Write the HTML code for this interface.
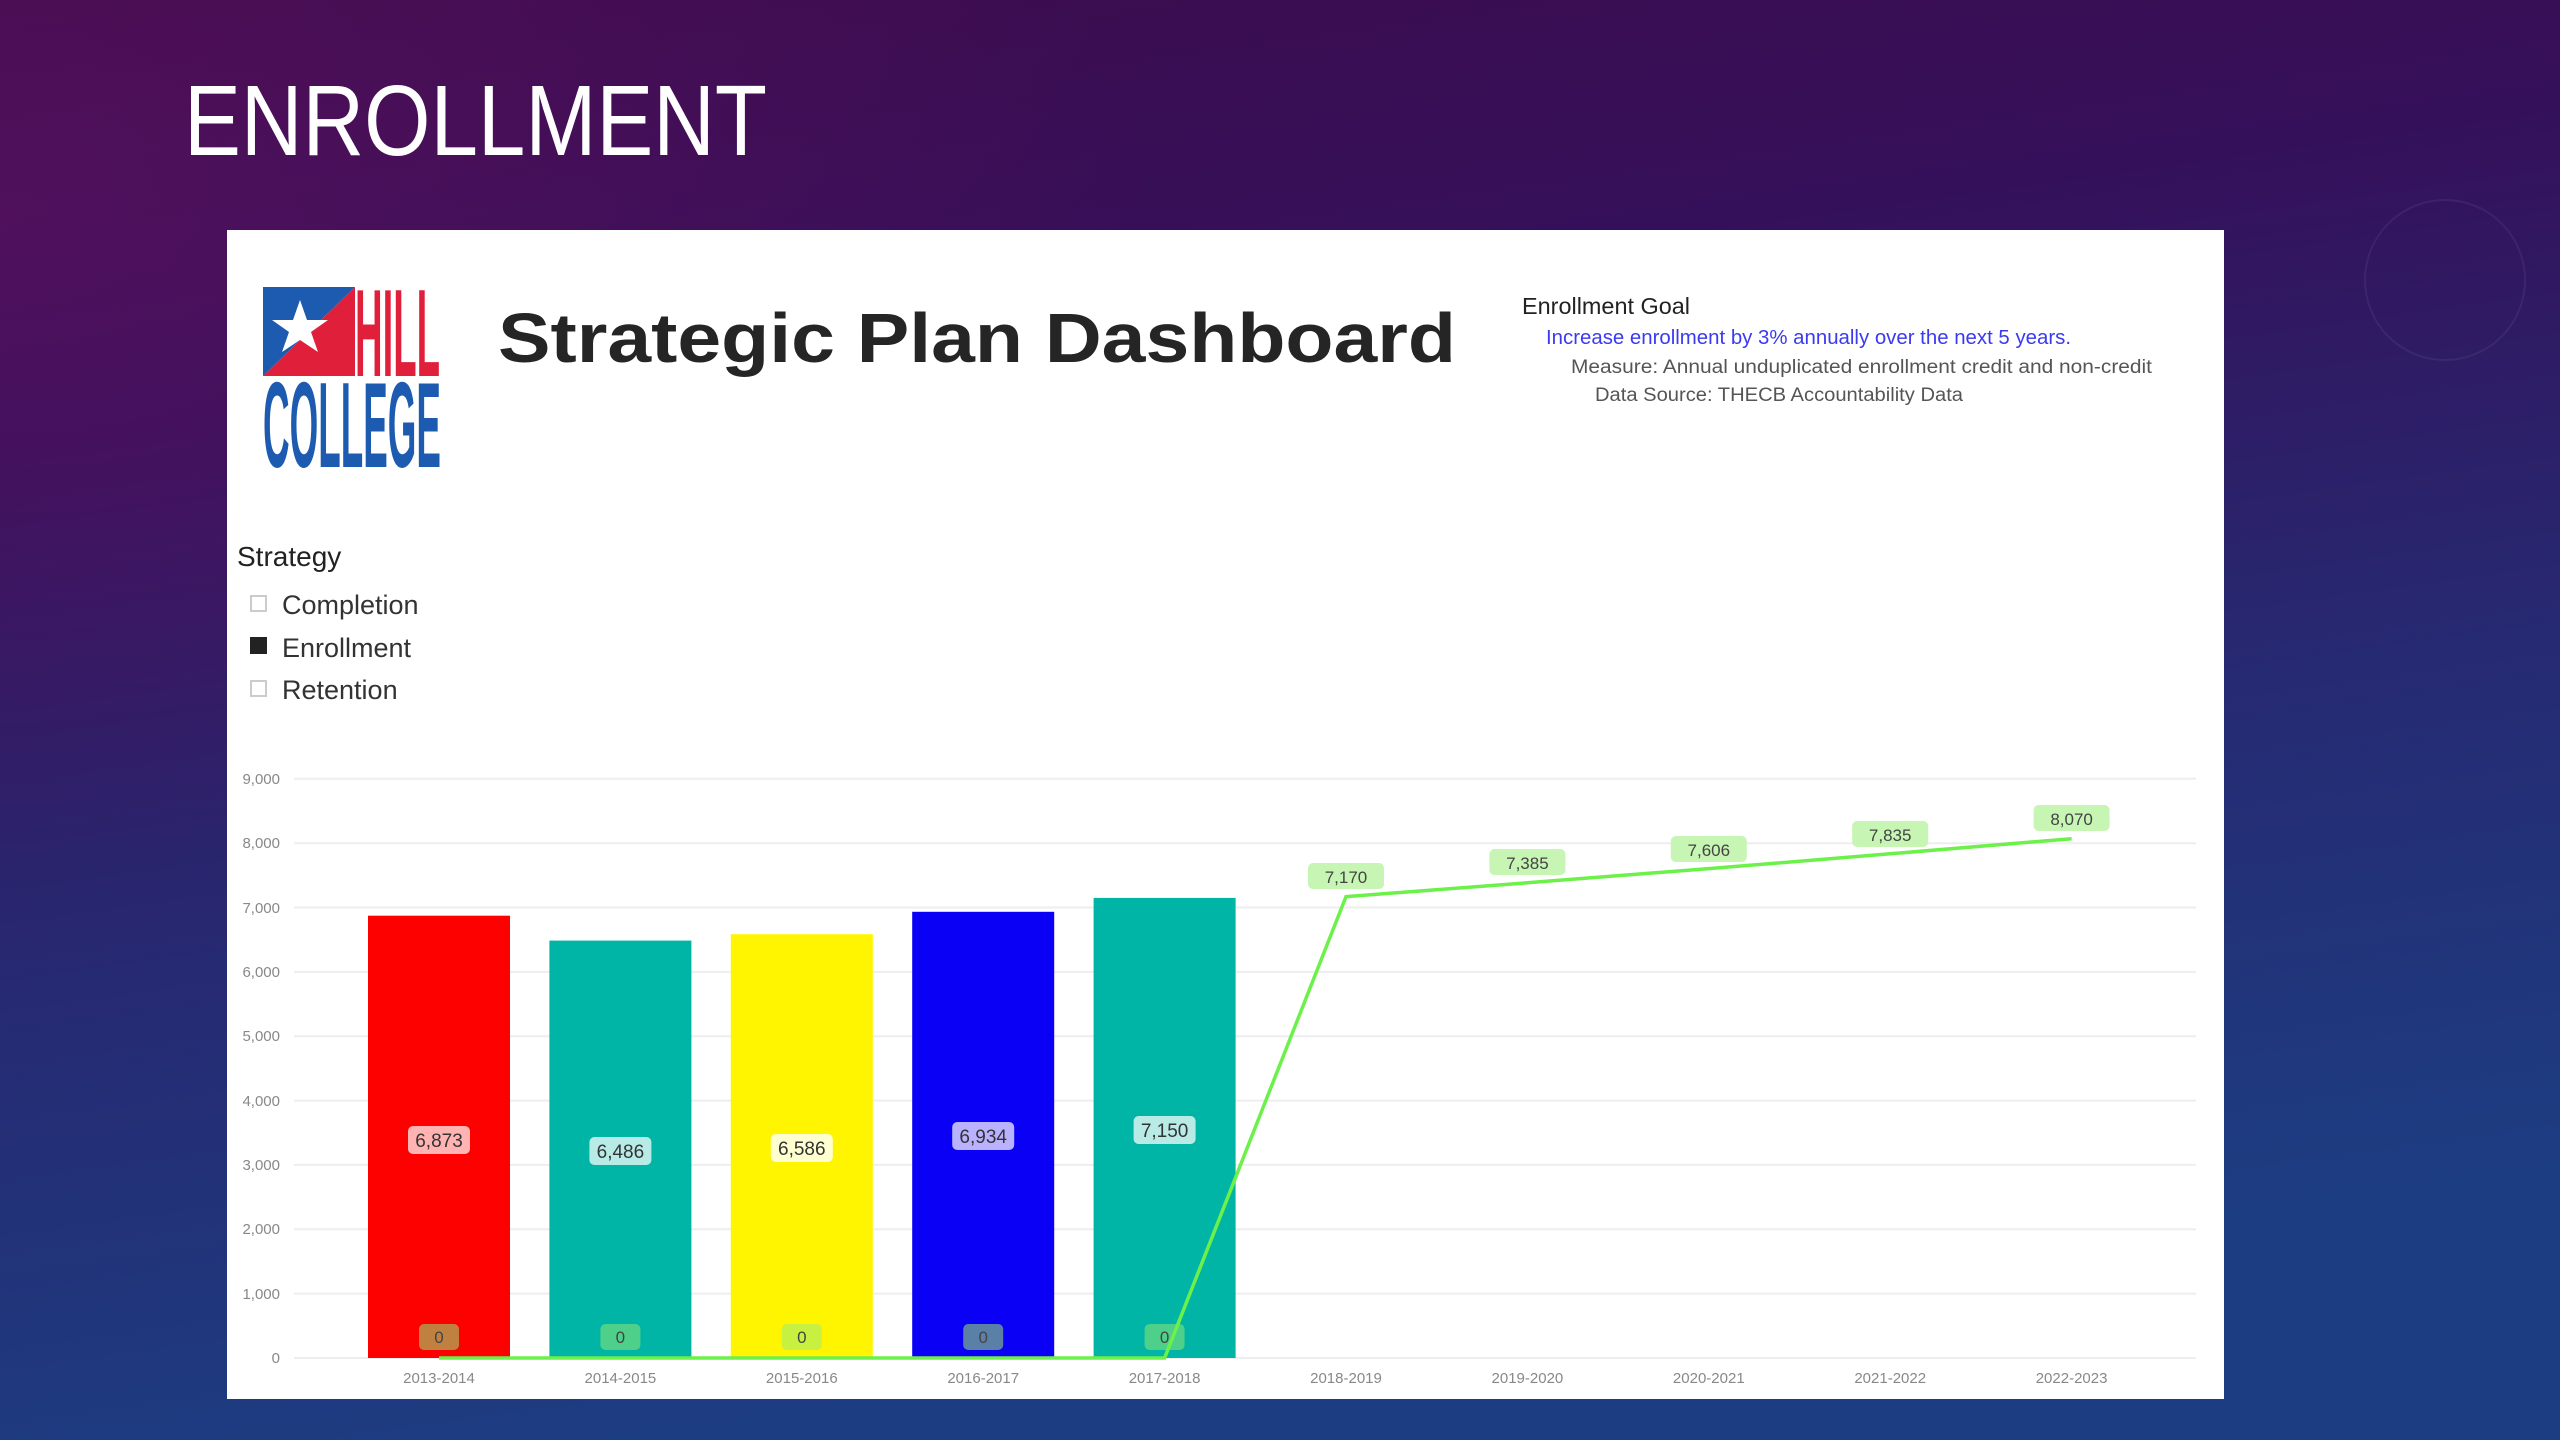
<!DOCTYPE html>
<html><head><meta charset="utf-8"><style>
html,body{margin:0;padding:0;width:2560px;height:1440px;overflow:hidden;background:#2a1560}
</style></head><body>
<svg width="2560" height="1440" viewBox="0 0 2560 1440" xmlns="http://www.w3.org/2000/svg" font-family="Liberation Sans, sans-serif">
<defs>
<linearGradient id="bg" x1="0" y1="0" x2="0.25" y2="1">
<stop offset="0" stop-color="#3e0b4c"/>
<stop offset="0.3" stop-color="#35105a"/>
<stop offset="0.65" stop-color="#262a72"/>
<stop offset="1" stop-color="#1d3d82"/>
</linearGradient>
<radialGradient id="glow" cx="0.0" cy="0.15" r="0.45">
<stop offset="0" stop-color="#6a1468" stop-opacity="0.45"/>
<stop offset="1" stop-color="#6a1468" stop-opacity="0"/>
</radialGradient>
</defs>
<rect width="2560" height="1440" fill="url(#bg)"/>
<rect width="2560" height="1440" fill="url(#glow)"/>
<circle cx="2445" cy="280" r="80" fill="none" stroke="#ffffff" stroke-opacity="0.06" stroke-width="2"/>
<text x="184" y="155" font-size="100" fill="#ffffff" textLength="583" lengthAdjust="spacingAndGlyphs">ENROLLMENT</text>

<rect x="227" y="230" width="1997" height="1169" fill="#ffffff"/>

<!-- logo -->
<polygon points="263,287 355,287 263,376" fill="#1d5bb0"/>
<polygon points="355,287 355,376 263,376" fill="#e0203a"/>
<polygon points="300,300 307,320 328,320 311,332 318,352 300,340 282,352 289,332 272,320 293,320" fill="#ffffff"/>
<text x="355" y="376" font-size="124" font-weight="bold" fill="#e0203a" textLength="85" lengthAdjust="spacingAndGlyphs">HILL</text>
<text x="263" y="467" font-size="122" font-weight="bold" fill="#1d5bb0" textLength="178" lengthAdjust="spacingAndGlyphs">COLLEGE</text>

<text x="498" y="362" font-size="70" font-weight="bold" fill="#252525" textLength="958" lengthAdjust="spacingAndGlyphs">Strategic Plan Dashboard</text>

<text x="1522" y="314" font-size="23" fill="#222" textLength="168" lengthAdjust="spacingAndGlyphs">Enrollment Goal</text>
<text x="1546" y="344" font-size="20" fill="#3a3af0" textLength="525" lengthAdjust="spacingAndGlyphs">Increase enrollment by 3% annually over the next 5 years.</text>
<text x="1571" y="373" font-size="19" fill="#555" textLength="581" lengthAdjust="spacingAndGlyphs">Measure: Annual unduplicated enrollment credit and non-credit</text>
<text x="1595" y="401" font-size="19" fill="#555" textLength="368" lengthAdjust="spacingAndGlyphs">Data Source: THECB Accountability Data</text>

<text x="237" y="566" font-size="28" fill="#222">Strategy</text>
<rect x="251" y="596" width="15" height="15" fill="#fff" stroke="#ccc" stroke-width="2"/>
<text x="282" y="614" font-size="27" fill="#333">Completion</text>
<rect x="250" y="637" width="17" height="17" fill="#222"/>
<text x="282" y="657" font-size="27" fill="#333">Enrollment</text>
<rect x="251" y="681" width="15" height="15" fill="#fff" stroke="#ccc" stroke-width="2"/>
<text x="282" y="699" font-size="27" fill="#333">Retention</text>

<!-- grid -->
<g stroke="#eeeeee" stroke-width="2">
<line x1="294" y1="1293.6" x2="2196" y2="1293.6"/>
<line x1="294" y1="1229.3" x2="2196" y2="1229.3"/>
<line x1="294" y1="1164.9" x2="2196" y2="1164.9"/>
<line x1="294" y1="1100.6" x2="2196" y2="1100.6"/>
<line x1="294" y1="1036.3" x2="2196" y2="1036.3"/>
<line x1="294" y1="971.9" x2="2196" y2="971.9"/>
<line x1="294" y1="907.5" x2="2196" y2="907.5"/>
<line x1="294" y1="843.2" x2="2196" y2="843.2"/>
<line x1="294" y1="778.8" x2="2196" y2="778.8"/>
<line x1="294" y1="1358" x2="2196" y2="1358"/>
</g>
<g font-size="15" fill="#888" text-anchor="end">
<text x="280" y="1363">0</text>
<text x="280" y="1299">1,000</text>
<text x="280" y="1234">2,000</text>
<text x="280" y="1170">3,000</text>
<text x="280" y="1106">4,000</text>
<text x="280" y="1041">5,000</text>
<text x="280" y="977">6,000</text>
<text x="280" y="913">7,000</text>
<text x="280" y="848">8,000</text>
<text x="280" y="784">9,000</text>
</g>

<!-- bars -->
<rect x="368" y="915.7" width="142" height="442.3" fill="#fd0000"/>
<rect x="549.4" y="940.6" width="142" height="417.4" fill="#00b5a5"/>
<rect x="730.8" y="934.2" width="142" height="423.8" fill="#fff500"/>
<rect x="912.2" y="911.8" width="142" height="446.2" fill="#0a00f5"/>
<rect x="1093.6" y="897.9" width="142" height="460.1" fill="#00b5a5"/>

<!-- bar labels -->
<g font-size="19" fill="#333" text-anchor="middle">
<rect x="408" y="1126" width="62" height="28" rx="5" fill="#ffb3b3"/><text x="439" y="1147">6,873</text>
<rect x="589.4" y="1137" width="62" height="28" rx="5" fill="#b8ebe6"/><text x="620.4" y="1158">6,486</text>
<rect x="770.8" y="1134" width="62" height="28" rx="5" fill="#ffffd0"/><text x="801.8" y="1155">6,586</text>
<rect x="952.2" y="1122" width="62" height="28" rx="5" fill="#b9b3ff"/><text x="983.2" y="1143">6,934</text>
<rect x="1133.6" y="1116" width="62" height="28" rx="5" fill="#b8ebe6"/><text x="1164.6" y="1137">7,150</text>
</g>
<g font-size="17" fill="#444" text-anchor="middle">
<rect x="419" y="1324" width="40" height="26" rx="5" fill="#c08040"/><text x="439" y="1343">0</text>
<rect x="600.4" y="1324" width="40" height="26" rx="5" fill="#4ed08a"/><text x="620.4" y="1343">0</text>
<rect x="781.8" y="1324" width="40" height="26" rx="5" fill="#c8f040"/><text x="801.8" y="1343">0</text>
<rect x="963.2" y="1324" width="40" height="26" rx="5" fill="#5a80a8"/><text x="983.2" y="1343">0</text>
<rect x="1144.6" y="1324" width="40" height="26" rx="5" fill="#4ed08a"/><text x="1164.6" y="1343">0</text>
</g>

<!-- goal line -->
<polyline points="439,1358 620.4,1358 801.8,1358 983.2,1358 1164.6,1358 1346,896.6 1527.4,882.8 1708.8,868.6 1890.2,853.8 2071.6,838.7" fill="none" stroke="#6cf04a" stroke-width="3.5"/>
<g font-size="17" fill="#444" text-anchor="middle">
<rect x="1308" y="863" width="76" height="26" rx="5" fill="#c6f5b4"/><text x="1346" y="883">7,170</text>
<rect x="1489.4" y="849" width="76" height="26" rx="5" fill="#c6f5b4"/><text x="1527.4" y="869">7,385</text>
<rect x="1670.8" y="836" width="76" height="26" rx="5" fill="#c6f5b4"/><text x="1708.8" y="856">7,606</text>
<rect x="1852.2" y="821" width="76" height="26" rx="5" fill="#c6f5b4"/><text x="1890.2" y="841">7,835</text>
<rect x="2033.6" y="805" width="76" height="26" rx="5" fill="#c6f5b4"/><text x="2071.6" y="825">8,070</text>
</g>

<!-- x labels -->
<g font-size="15" fill="#888" text-anchor="middle">
<text x="439" y="1383">2013-2014</text>
<text x="620.4" y="1383">2014-2015</text>
<text x="801.8" y="1383">2015-2016</text>
<text x="983.2" y="1383">2016-2017</text>
<text x="1164.6" y="1383">2017-2018</text>
<text x="1346" y="1383">2018-2019</text>
<text x="1527.4" y="1383">2019-2020</text>
<text x="1708.8" y="1383">2020-2021</text>
<text x="1890.2" y="1383">2021-2022</text>
<text x="2071.6" y="1383">2022-2023</text>
</g>
</svg>
</body></html>
